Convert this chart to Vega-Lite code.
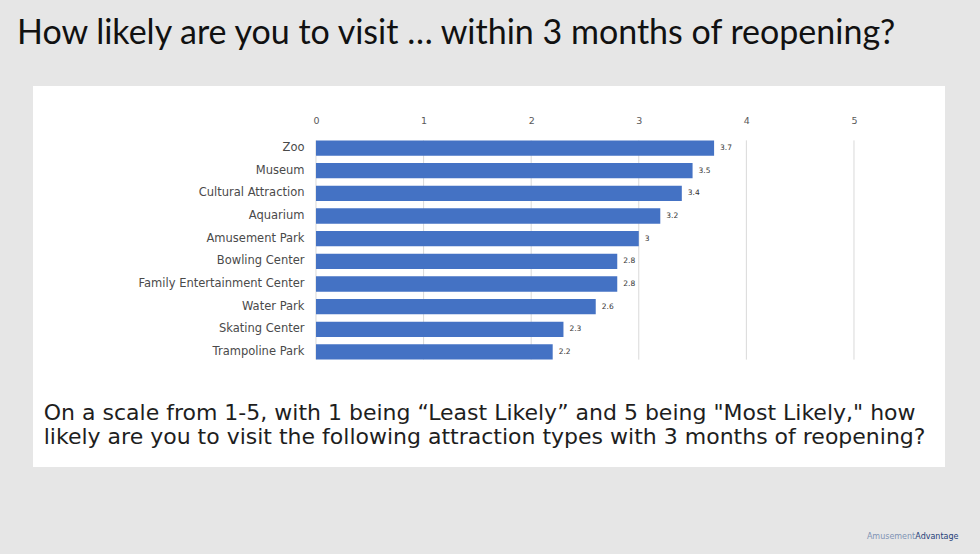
{
  "$schema": "https://vega.github.io/schema/vega-lite/v6.json",
  "width": 912,
  "height": 381,
  "autosize": "none",
  "padding": {"left": 33, "top": 86, "right": 35, "bottom": 87},
  "background": "#e6e6e6",
  "view": {"fill": "#ffffff", "stroke": null},
  "title": {
    "text": "How likely are you to visit … within 3 months of reopening?",
    "anchor": "start",
    "dx": -16,
    "offset": 35,
    "font": "Lato",
    "fontSize": 34,
    "fontWeight": "normal",
    "color": "#111111"
  },
  "config": {
    "axisX": {"title": null, "grid": false, "domain": false, "ticks": false, "tickSize": 0, "labelPadding": 2, "labelFont": "DejaVu Sans", "labelFontSize": 9.5, "labelColor": "#595959"},
    "axisY": {"title": null, "grid": false, "domain": false, "ticks": false, "tickSize": 0, "labelPadding": 4, "labelFont": "DejaVu Sans", "labelFontSize": 11.5, "labelColor": "#4a4a4a"}
  },
  "datasets": {
    "bars": [
      {"attraction": "Zoo", "score": 3.7},
      {"attraction": "Museum", "score": 3.5},
      {"attraction": "Cultural Attraction", "score": 3.4},
      {"attraction": "Aquarium", "score": 3.2},
      {"attraction": "Amusement Park", "score": 3},
      {"attraction": "Bowling Center", "score": 2.8},
      {"attraction": "Family Entertainment Center", "score": 2.8},
      {"attraction": "Water Park", "score": 2.6},
      {"attraction": "Skating Center", "score": 2.3},
      {"attraction": "Trampoline Park", "score": 2.2}
    ],
    "grid": [{"tick": 0}, {"tick": 1}, {"tick": 2}, {"tick": 3}, {"tick": 4}, {"tick": 5}],
    "logo": [{"part": "Amusement", "pos": 5.12}, {"part": "Advantage", "pos": 5.57}]
  },
  "layer": [
    {
      "data": {"name": "grid"},
      "mark": {"type": "rule", "color": "#d9d9d9", "strokeWidth": 1},
      "encoding": {
        "x": {"field": "tick", "type": "quantitative",
              "scale": {"domain": [-2.63, 5.846], "nice": false, "zero": false},
              "axis": {"orient": "top", "values": [0, 1, 2, 3, 4, 5], "offset": -41.5, "title": null}},
        "y": {"datum": "Zoo", "type": "nominal", "bandPosition": 0,
              "scale": {"domain": ["Zoo", "Museum", "Cultural Attraction", "Aquarium", "Amusement Park", "Bowling Center", "Family Entertainment Center", "Water Park", "Skating Center", "Trampoline Park"], "range": [50.7, 277.3], "paddingInner": 0.325, "paddingOuter": 0.1625, "round": false},
              "axis": {"offset": -275, "title": null}},
        "y2": {"datum": "Trampoline Park", "bandPosition": 1}
      }
    },
    {
      "data": {"name": "bars"},
      "mark": {"type": "bar", "color": "#4472C4"},
      "encoding": {
        "x": {"field": "score", "type": "quantitative",
              "scale": {"domain": [-2.63, 5.846], "nice": false, "zero": false},
              "axis": {"orient": "top", "values": [0, 1, 2, 3, 4, 5], "offset": -41.5, "title": null}},
        "y": {"field": "attraction", "type": "nominal",
              "scale": {"domain": ["Zoo", "Museum", "Cultural Attraction", "Aquarium", "Amusement Park", "Bowling Center", "Family Entertainment Center", "Water Park", "Skating Center", "Trampoline Park"], "range": [50.7, 277.3], "paddingInner": 0.325, "paddingOuter": 0.1625, "round": false},
              "axis": {"offset": -275, "title": null}}
      }
    },
    {
      "data": {"name": "bars"},
      "mark": {"type": "text", "align": "left", "baseline": "middle", "dx": 6, "font": "DejaVu Sans", "fontSize": 7.5, "color": "#333333"},
      "encoding": {
        "x": {"field": "score", "type": "quantitative",
              "axis": {"orient": "top", "values": [0, 1, 2, 3, 4, 5], "offset": -41.5, "title": null}},
        "y": {"field": "attraction", "type": "nominal",
              "axis": {"offset": -275, "title": null}},
        "text": {"field": "score", "type": "quantitative"}
      }
    },
    {
      "data": {"values": [{}]},
      "mark": {"type": "text", "align": "left", "baseline": "top", "dy": 51, "lineHeight": 24, "font": "DejaVu Sans", "fontSize": 22, "color": "#1e1e1e"},
      "encoding": {
        "x": {"datum": -2.53,
              "axis": {"orient": "top", "values": [0, 1, 2, 3, 4, 5], "offset": -41.5, "title": null}},
        "y": {"datum": "Trampoline Park",
              "axis": {"offset": -275, "title": null}},
        "text": {"value": ["On a scale from 1-5, with 1 being “Least Likely” and 5 being \"Most Likely,\" how", "likely are you to visit the following attraction types with 3 months of reopening?"]}
      }
    },
    {
      "data": {"name": "logo"},
      "mark": {"type": "text", "align": "left", "baseline": "middle", "dy": 185, "font": "DejaVu Sans", "fontSize": 8},
      "encoding": {
        "x": {"field": "pos", "type": "quantitative",
              "axis": {"orient": "top", "values": [0, 1, 2, 3, 4, 5], "offset": -41.5, "title": null}},
        "y": {"datum": "Trampoline Park",
              "axis": {"offset": -275, "title": null}},
        "text": {"field": "part"},
        "color": {"field": "part", "type": "nominal", "scale": {"domain": ["Amusement", "Advantage"], "range": ["#7f93b5", "#1f3f7a"]}, "legend": null},
        "fontWeight": {"field": "part", "type": "nominal", "scale": {"domain": ["Amusement", "Advantage"], "range": ["normal", "bold"]}, "legend": null}
      }
    }
  ]
}
